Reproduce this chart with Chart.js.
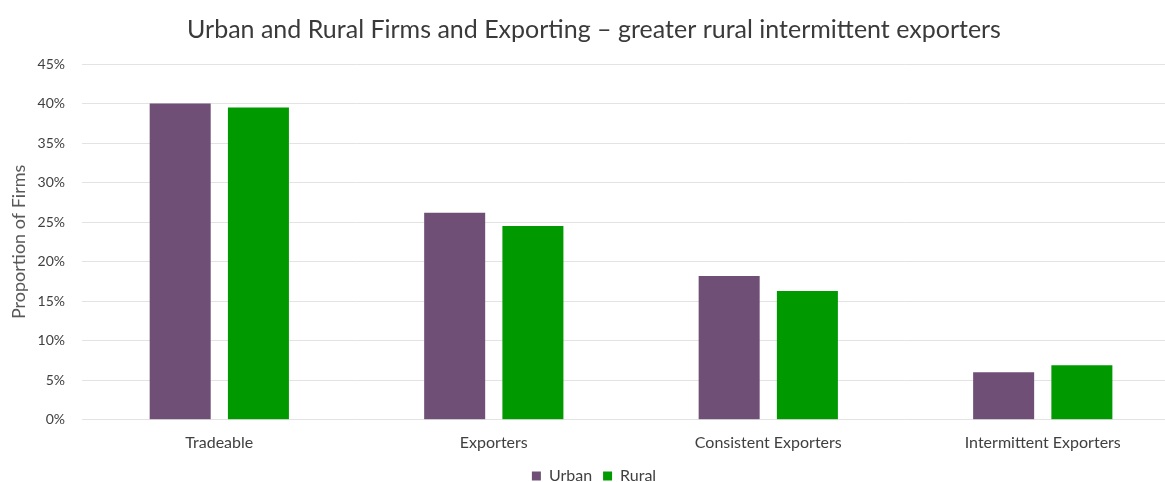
<!DOCTYPE html>
<html>
<head>
<meta charset="utf-8">
<script src="https://cdn.jsdelivr.net/npm/chart.js@4/dist/chart.umd.min.js"></script>
<style>
  html, body { margin: 0; padding: 0; background: #fff; overflow: hidden; }
  #wrap { width: 1180px; height: 494px; }
</style>
</head>
<body>
<div id="wrap"><canvas id="chart"></canvas></div>
<script>
const categories = ["Tradeable", "Exporters", "Consistent Exporters", "Intermittent Exporters"];
const urbanValues = [40.0, 26.2, 18.2, 6.0];
const ruralValues = [39.5, 24.5, 16.3, 6.9];

const ctx = document.getElementById("chart").getContext("2d");

new Chart(ctx, {
  type: "bar",
  data: {
    labels: categories,
    datasets: [
      {
        label: "Urban",
        data: urbanValues,
        backgroundColor: "#6f4f76",
        categoryPercentage: 0.57,
        barPercentage: 0.78,
      },
      {
        label: "Rural",
        data: ruralValues,
        backgroundColor: "#009a00",
        categoryPercentage: 0.57,
        barPercentage: 0.78,
      },
    ],
  },
  options: {
    responsive: true,
    maintainAspectRatio: false,
    animation: false,
    layout: { padding: { top: 6, left: 8, right: 0, bottom: 0 } },
    plugins: {
      title: {
        display: true,
        text: "Urban and Rural Firms and Exporting \u2013 greater rural intermittent exporters",
        color: "#3a3a3a",
        font: { family: "Lato", size: 25, weight: "normal" },
        padding: { top: 9, bottom: 19 },
      },
      legend: {
        position: "bottom",
        labels: {
          color: "#404040",
          font: { family: "Lato", size: 16 },
          boxWidth: 9,
          boxHeight: 9,
          padding: 11,
        },
      },
      tooltip: { enabled: false },
    },
    scales: {
      x: {
        grid: { display: false },
        border: { display: false },
        ticks: {
          color: "#404040",
          font: { family: "Lato", size: 16 },
          padding: 5,
        },
      },
      y: {
        min: 0,
        max: 45,
        grid: { color: "#e3e3e3", drawTicks: false },
        border: { display: false },
        ticks: {
          stepSize: 5,
          color: "#404040",
          font: { family: "Lato", size: 14 },
          padding: 17,
          callback: (v) => v + "%",
        },
        title: {
          display: true,
          text: "Proportion of Firms",
          color: "#595959",
          font: { family: "Lato", size: 18 },
          padding: { top: 0, bottom: -9 },
        },
      },
    },
  },
});
</script>
</body>
</html>
